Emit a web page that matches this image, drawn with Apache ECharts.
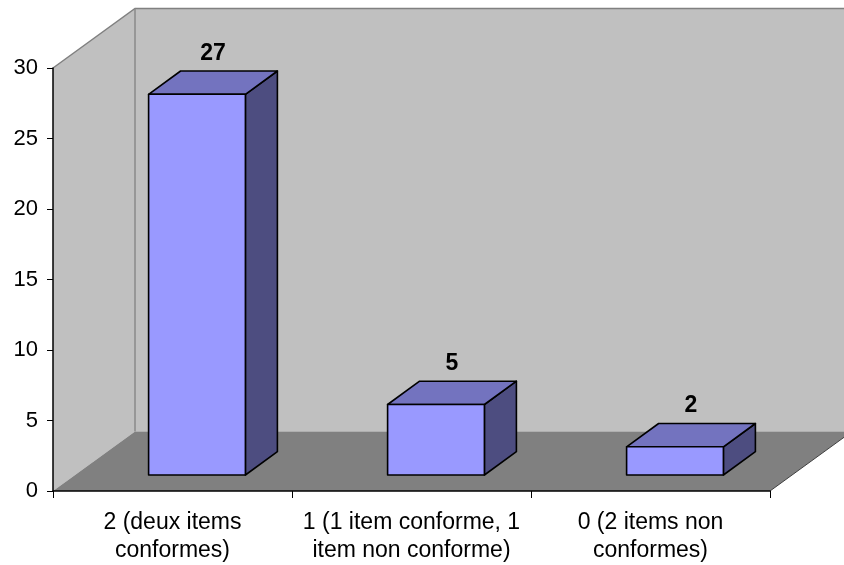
<!DOCTYPE html>
<html>
<head>
<meta charset="utf-8">
<script src="https://cdn.jsdelivr.net/npm/echarts@6/dist/echarts.min.js"></script>
<style>
  html, body { margin: 0; padding: 0; background: #ffffff; }
  #chart { width: 844px; height: 565px; }
</style>
</head>
<body>
<div id="chart"></div>
<script>
// Category labels (two lines each) and counts per category
const categories = [
  '2 (deux items\nconformes)',
  '1 (1 item conforme, 1\nitem non conforme)',
  '0 (2 items non\nconformes)'
];
const counts = [27, 5, 2];

// Value axis range
const yMin = 0;
const yMax = 30;
const yStep = 5;

// Pseudo-3D geometry (pixels)
const WALL_DX = 82, WALL_DY = -59.5;   // depth of the floor / walls
const BAR_DX0 = 24.5, BAR_DY0 = -16;    // bar front face offset from the front plane
const BAR_DX = 32, BAR_DY = -23.3;      // bar depth
const BAR_RATIO = 0.405;                // bar width / category band

const FONT = '"Liberation Sans", Arial, sans-serif';

function renderWalls(params, api) {
  const cs = params.coordSys;
  const L = cs.x, R = cs.x + cs.width, T = cs.y, B = cs.y + cs.height;
  return {
    type: 'group',
    children: [
      { // back wall
        type: 'polygon',
        shape: { points: [[L + WALL_DX, T + WALL_DY], [R + WALL_DX, T + WALL_DY], [R + WALL_DX, B + WALL_DY], [L + WALL_DX, B + WALL_DY]] },
        style: { fill: '#c0c0c0', stroke: null }
      },
      { // left wall
        type: 'polygon',
        shape: { points: [[L, B], [L, T], [L + WALL_DX, T + WALL_DY], [L + WALL_DX, B + WALL_DY]] },
        style: { fill: '#c0c0c0', stroke: null }
      },
      { // floor
        type: 'polygon',
        shape: { points: [[L, B], [R, B], [R + WALL_DX, B + WALL_DY], [L + WALL_DX, B + WALL_DY]] },
        style: { fill: '#808080', stroke: null }
      },
      { // wall edges
        type: 'polyline',
        shape: { points: [[L, T], [L + WALL_DX, T + WALL_DY], [R + WALL_DX, T + WALL_DY]] },
        style: { stroke: '#808080', lineWidth: 1.5, fill: null }
      },
      {
        type: 'line',
        shape: { x1: L + WALL_DX, y1: T + WALL_DY, x2: L + WALL_DX, y2: B + WALL_DY },
        style: { stroke: '#8a8a8a', lineWidth: 1.5 }
      },
      { // floor right edge
        type: 'line',
        shape: { x1: R, y1: B, x2: R + WALL_DX, y2: B + WALL_DY },
        style: { stroke: '#404040', lineWidth: 1 }
      }
    ]
  };
}

function renderBar(params, api) {
  const i = api.value(0), v = api.value(1);
  const top = api.coord([i, v]);
  const base = api.coord([i, 0]);
  const band = api.size([1, 0])[0];
  const w = band * BAR_RATIO;
  const x0 = top[0] + BAR_DX0 - w / 2, x1 = x0 + w;
  const yt = top[1] + BAR_DY0, yb = base[1] + BAR_DY0;
  const edge = { stroke: '#000000', lineWidth: 1.6, lineJoin: 'round' };
  return {
    type: 'group',
    children: [
      {
        type: 'polygon',
        shape: { points: [[x1, yt], [x1 + BAR_DX, yt + BAR_DY], [x1 + BAR_DX, yb + BAR_DY], [x1, yb]] },
        style: Object.assign({ fill: '#4d4d80' }, edge)
      },
      {
        type: 'polygon',
        shape: { points: [[x0, yt], [x0 + BAR_DX, yt + BAR_DY], [x1 + BAR_DX, yt + BAR_DY], [x1, yt]] },
        style: Object.assign({ fill: '#7373bf' }, edge)
      },
      {
        type: 'rect',
        shape: { x: x0, y: yt, width: w, height: yb - yt },
        style: Object.assign({ fill: '#9999ff' }, edge)
      },
      {
        type: 'text',
        x: (x0 + x1) / 2 + BAR_DX / 2,
        y: yt + BAR_DY - 6,
        style: {
          text: String(v),
          fill: '#000000',
          font: 'bold 23px ' + FONT,
          align: 'center',
          verticalAlign: 'bottom'
        }
      }
    ]
  };
}

const chart = echarts.init(document.getElementById('chart'), null, { renderer: 'canvas' });
chart.setOption({
  backgroundColor: '#ffffff',
  animation: false,
  grid: { left: 53, right: 74, top: 68, bottom: 74, containLabel: false },
  xAxis: {
    type: 'category',
    data: categories,
    z: 10,
    axisLine: { show: true, lineStyle: { color: '#000000', width: 1.5 } },
    axisTick: { show: true, length: 7, lineStyle: { color: '#000000', width: 1 } },
    axisLabel: { color: '#000000', fontFamily: FONT, fontSize: 23, lineHeight: 28, margin: 18, interval: 0 },
    splitLine: { show: false }
  },
  yAxis: {
    type: 'value',
    min: yMin, max: yMax, interval: yStep,
    z: 10,
    axisLine: { show: true, lineStyle: { color: '#000000', width: 1.5 } },
    axisTick: { show: true, length: 6, lineStyle: { color: '#000000', width: 1 } },
    axisLabel: { color: '#000000', fontFamily: FONT, fontSize: 22, margin: 15 },
    splitLine: { show: false }
  },
  series: [
    {
      type: 'custom',
      z: -1,
      clip: false,
      silent: true,
      renderItem: renderWalls,
      data: [[0, 0]]
    },
    {
      type: 'custom',
      z: 5,
      clip: false,
      renderItem: renderBar,
      encode: { x: 0, y: 1 },
      data: counts.map((v, i) => [i, v])
    }
  ]
});
</script>
</body>
</html>
